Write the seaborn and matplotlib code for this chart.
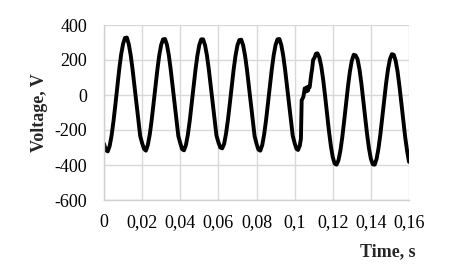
import matplotlib
matplotlib.use("Agg")
import matplotlib.pyplot as plt
import seaborn as sns
import pandas as pd

# sampling instants in milliseconds
time_ms = (list(range(0, 102))
           + [101.8, 102.7, 103.3, 103.7, 104.6, 105.3, 106.0, 106.5, 107.0,
              107.5, 107.9, 108.8, 109.2, 109.7, 110.5, 111.2, 112.0]
           + list(range(113, 161)))

voltage = [
    -278, -316, -322, -290, -230, -148, -52, 50, 148, 232,
    292, 326, 328, 290, 228, 145, 50, -50, -145, -235,
    -275, -308, -318, -285, -226, -145, -50, 50, 145, 228,
    287, 318, 320, 288, 228, 145, 50, -50, -145, -235,
    -275, -310, -316, -285, -226, -145, -50, 50, 145, 226,
    286, 318, 318, 285, 226, 145, 50, -50, -145, -232,
    -270, -300, -305, -280, -222, -143, -50, 50, 145, 225,
    284, 314, 316, 284, 225, 145, 50, -50, -145, -235,
    -278, -312, -318, -287, -226, -145, -50, 50, 145, 226,
    286, 318, 320, 286, 226, 145, 50, -50, -145, -232,
    -275, -308,
    # disturbance
    -314, -290, -250, -30, -10, 38, 20, 45, 25,
    48, 45, 124, 150, 200, 215, 236, 238,
    # after disturbance
    213, 162, 86, -7, -107, -205, -290, -355, -392, -398,
    -373, -319, -241, -147, -47, 50, 134, 196, 230, 226,
    205, 148, 68, -27, -127, -223, -305, -365, -396, -398,
    -365, -305, -223, -127, -27, 68, 148, 205, 233, 230,
    196, 134, 50, -47, -147, -241, -319, -382,
]

x_ticks = [0, 0.02, 0.04, 0.06, 0.08, 0.10, 0.12, 0.14, 0.16]
x_tick_labels = ["0", "0,02", "0,04", "0,06", "0,08", "0,1", "0,12", "0,14", "0,16"]
y_ticks = [-600, -400, -200, 0, 200, 400]
y_tick_labels = ["-600", "-400", "-200", "0", "200", "400"]

df = pd.DataFrame({"t": [m / 1000.0 for m in time_ms], "v": voltage})

sns.set_style("white")
plt.rcParams["font.family"] = ["Liberation Serif", "DejaVu Serif"]

fig = plt.figure(figsize=(4.49, 2.74), dpi=100)
ax = fig.add_axes([104 / 449, 1 - 200 / 274, 305 / 449, 175 / 274])

sns.lineplot(data=df, x="t", y="v", color="black", linewidth=2.8,
             estimator=None, ax=ax)

ax.set_xlim(0, 0.16)
ax.set_ylim(-600, 400)
ax.set_xticks(x_ticks)
ax.set_xticklabels(x_tick_labels)
ax.set_yticks(y_ticks)
ax.set_yticklabels(y_tick_labels)
ax.tick_params(axis="both", length=0, labelsize=13, colors="black")
ax.tick_params(axis="x", pad=10)
ax.tick_params(axis="y", pad=12)

ax.grid(True, color="#d9d9d9", linewidth=1.0)
ax.set_axisbelow(True)
for side in ["top", "right"]:
    ax.spines[side].set_visible(False)
for side in ["left", "bottom"]:
    ax.spines[side].set_color("#d0d0d0")
    ax.spines[side].set_linewidth(1.0)

ax.set_xlabel("")
ax.set_ylabel("")
fig.text(416 / 449, 1 - 252 / 274, "Time, s", ha="right", va="center",
         fontsize=13, fontweight="bold")
fig.text(39 / 449, 1 - 113 / 274, "Voltage, V", ha="center", va="center",
         rotation=90, fontsize=13, fontweight="bold")

fig.savefig("out.png", dpi=100, facecolor="white")
